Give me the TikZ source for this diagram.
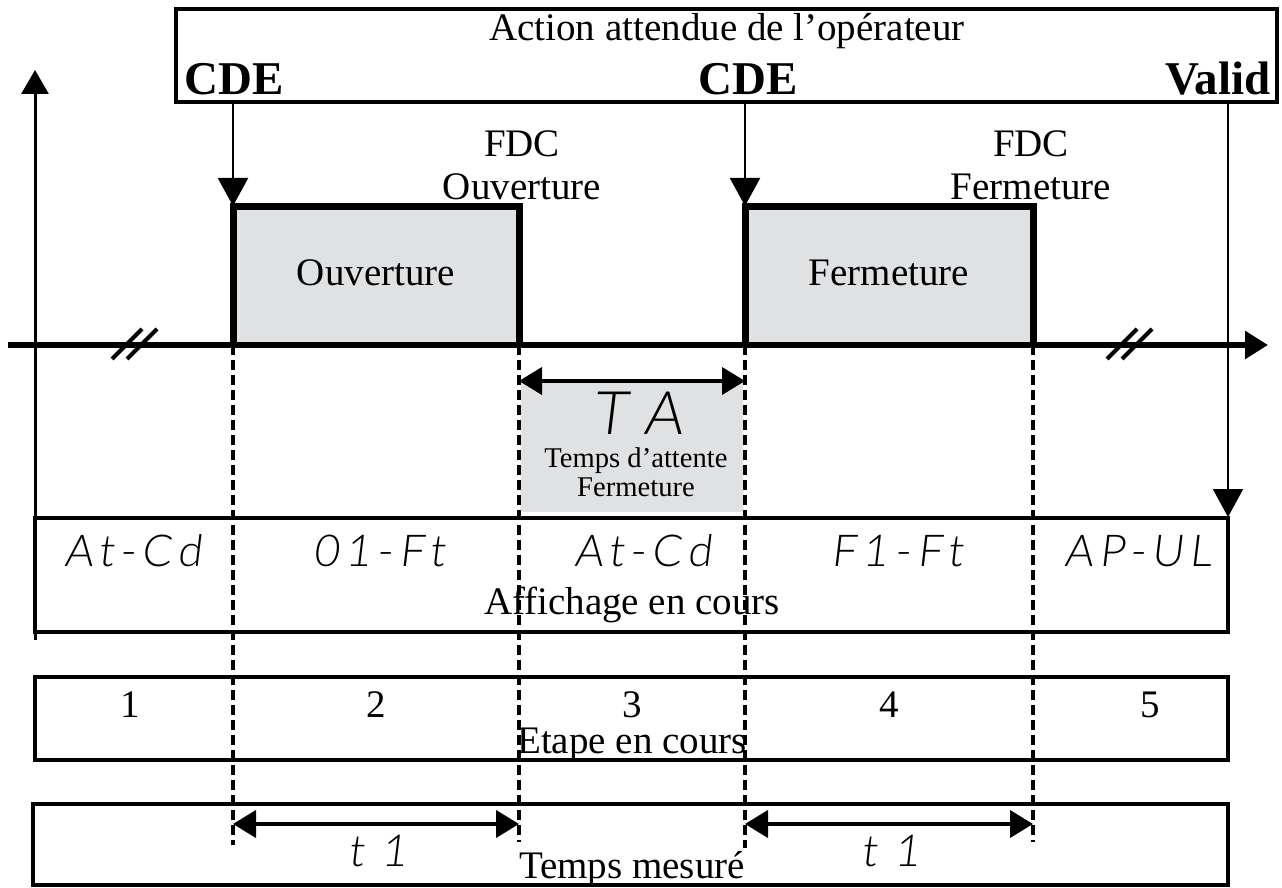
\documentclass[tikz,border=0pt]{standalone}
\usepackage{fontspec}
\setmainfont{Liberation Serif}
\newfontfamily\segfont{Lato Light}[FakeSlant=0.12, LetterSpace=14]
\newfontfamily\segbig{Lato Light}[FakeSlant=0.12]
\usetikzlibrary{arrows.meta}

\definecolor{pulsegray}{RGB}{224,225,227}

\tikzset{
    txt/.style={font=\fontsize{19.5}{21.5}\selectfont, inner sep=0pt},
    cdetxt/.style={font=\fontsize{23.5}{26}\selectfont\bfseries, inner sep=0pt},
    note/.style={font=\fontsize{14.3}{14.5}\selectfont, inner sep=0pt},
    seg/.style={font=\segfont\fontsize{22}{24}\selectfont, inner sep=0pt},
    rowbox/.style={draw, line width=2pt},
    trig/.style={-{Triangle[length=14pt,width=15pt]}, line width=1pt},
    dim/.style={{Triangle[length=11.5pt,width=13.5pt]}-{Triangle[length=11.5pt,width=13.5pt]}, line width=2pt},
    guide/.style={line width=2pt, dash pattern=on 5pt off 2.5pt},
}

\begin{document}
\begin{tikzpicture}[x=0.5pt,y=-0.5pt]
            \useasboundingbox (0,0) rectangle (1282,888);

            % operator actions
            \draw[line width=2pt] (176,9) rectangle (1277,102);
            \node[txt] (action) at (727,31) {Action attendue de l’opérateur};
            \node[cdetxt] (cde1) at (234,79) {CDE};
            \node[cdetxt] (cde2) at (748,79) {CDE};
            \node[cdetxt, anchor=east] (valid) at (1271,79) {Valid};

            % signal
            \coordinate (a) at (233,345);
            \coordinate (b) at (519,345);
            \coordinate (c) at (745,345);
            \coordinate (d) at (1033,345);

            \fill[pulsegray] (233,207) rectangle (519,345);
            \fill[pulsegray] (745,207) rectangle (1033,345);
            \fill[pulsegray] (521,382) rectangle (743,512);

            \draw[line width=1.5pt, -{Triangle[length=12pt,width=13.5pt]}] (35,640) -- (35,70);
            \draw[line width=3pt, -{Triangle[length=11.5pt,width=13.5pt]}] (8,345) -- (1268,345);
            \draw[line width=3.5pt] (a) -- (233,207) -- (519,207) -- (b);
            \draw[line width=3.5pt] (c) -- (745,207) -- (1033,207) -- (d);

            \foreach \bx in {135,1130}{
                \draw[line width=2pt] (\bx-23,359) -- (\bx+7,329);
                \draw[line width=2pt] (\bx-8,359) -- (\bx+22,329);
            }

            \node[txt] (ouv) at (376,273) {Ouverture};
            \node[txt] (ferm) at (889,273) {Fermeture};
            \node[txt, align=center] (fdco) at (522,165) {FDC\\Ouverture};
            \node[txt, align=center] (fdcf) at (1031,165) {FDC\\Fermeture};

            \coordinate (t1) at (233,206);
            \coordinate (t2) at (745,206);
            \coordinate (v) at (1228,517);
            \draw[trig] (233,104) -- (t1);
            \draw[trig] (745,104) -- (t2);
            \draw[trig] (1228,103) -- (v);

            % waiting time
            \draw[dim] (b |- 0,381) -- (c |- 0,381);
            \node[inner sep=0pt, font=\segbig\fontsize{30}{30}\selectfont] (ta) at (638,413) {T A};
            \node[note, align=center] (tatxt) at (636,472) {Temps d’attente\\Fermeture};

            % rows
            \draw[rowbox] (35,518) rectangle (1228,632);
            \draw[rowbox] (35,677) rectangle (1228,760);
            \draw[rowbox] (33,804) rectangle (1228,885);

            \foreach \gx/\gy in {a/845, b/842, c/848, d/842}{
                \draw[guide] (\gx) -- (\gx |- 0,\gy);
            }

            \node[seg] (aff1) at (133,551) {At-Cd};
            \node[seg] (aff2) at (379,551) {01-Ft};
            \node[seg] (aff3) at (643,551) {At-Cd};
            \node[seg] (aff4) at (897,551) {F1-Ft};
            \node[seg] (aff5) at (1138,551) {AP-UL};
            \node[txt] (affl) at (632,605) {Affichage en cours};

            \node[txt] (e1) at (130,705) {1};
            \node[txt] (e2) at (376,705) {2};
            \node[txt] (e3) at (632,705) {3};
            \node[txt] (e4) at (889,705) {4};
            \node[txt] (e5) at (1150,705) {5};
            \node[txt] (etl) at (632,745) {Etape en cours};

            \draw[dim] (a |- 0,824) -- (b |- 0,824);
            \draw[dim] (c |- 0,824) -- (d |- 0,824);
            \node[seg] (m1) at (378,851) {t 1};
            \node[seg] (m2) at (891,851) {t 1};
            \node[txt] (tml) at (632,869) {Temps mesuré};
        \end{tikzpicture}
\end{document}
